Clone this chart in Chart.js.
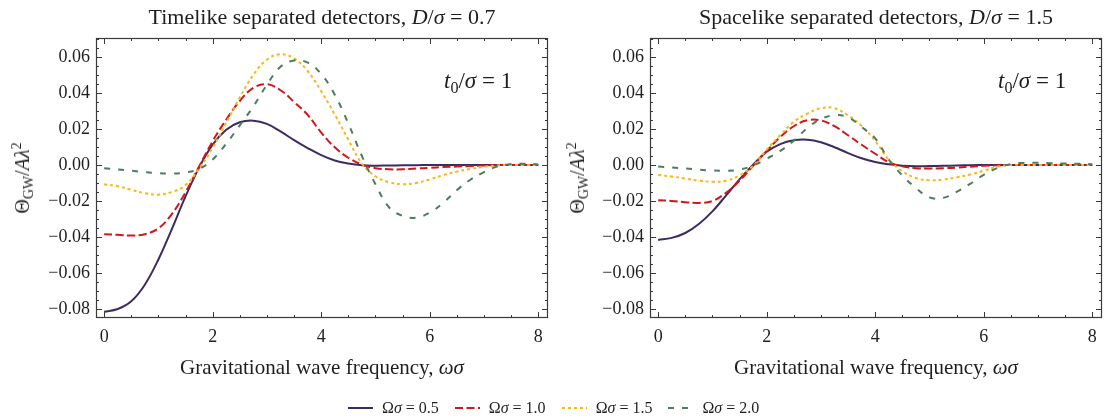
<!DOCTYPE html>
<html>
<head>
<meta charset="utf-8">
<script src="https://cdn.jsdelivr.net/npm/chart.js@4/dist/chart.umd.min.js"></script>
<style>
    html, body { margin: 0; padding: 0; background: #fff; }
    #fig { position: relative; width: 1104px; height: 419px; overflow: hidden;
           font-family: "Liberation Serif", "Times New Roman", serif; color: #1e1e1e; }
    #fig canvas { position: absolute; top: 0; }
    .txt { position: absolute; white-space: nowrap; line-height: 1; }
    .titulo { top: 6px; font-size: 22px; transform: translateX(-50%); }
    .ejeX { top: 357px; font-size: 21px; transform: translateX(-50%); }
    .ejeY { font-size: 20px; transform: translate(-50%, -50%) rotate(-90deg); }
    .nota { top: 69px; font-size: 23px; }
    sub { font-size: 0.7em; vertical-align: -0.3em; line-height: 0; }
    sup { font-size: 0.7em; vertical-align: 0.55em; line-height: 0; }
    #leyenda { position: absolute; top: 399px; left: 348px; font-size: 16px; display: flex; align-items: center; }
    #leyenda .item { display: flex; align-items: center; margin-right: 16px; }
    #leyenda svg { margin-right: 9px; }
</style>
</head>
<body>
<div id="fig">
    <canvas id="izq" width="552" height="419" style="left:0"></canvas>
    <canvas id="der" width="552" height="419" style="left:552px"></canvas>

    <div class="txt titulo" style="left:322px">Timelike separated detectors, <i>D</i>/<i>σ</i> = 0.7</div>
    <div class="txt titulo" style="left:876px">Spacelike separated detectors, <i>D</i>/<i>σ</i> = 1.5</div>

    <div class="txt ejeY" style="left:22px; top:178px">Θ<sub>GW</sub>/<i>Aλ</i><sup>2</sup></div>
    <div class="txt ejeY" style="left:577px; top:178px">Θ<sub>GW</sub>/<i>Aλ</i><sup>2</sup></div>

    <div class="txt ejeX" style="left:322px">Gravitational wave frequency, <i>ωσ</i></div>
    <div class="txt ejeX" style="left:876px">Gravitational wave frequency, <i>ωσ</i></div>

    <div class="txt nota" style="left:444px"><i>t</i><sub>0</sub>/<i>σ</i> = 1</div>
    <div class="txt nota" style="left:998px"><i>t</i><sub>0</sub>/<i>σ</i> = 1</div>

    <div id="leyenda"></div>
</div>

<script>
// frecuencia ωσ
const omega = [0, 0.25, 0.5, 0.75, 1, 1.25, 1.5, 1.75, 2, 2.25, 2.5, 2.75, 3, 3.25, 3.5, 3.75,
               4, 4.25, 4.5, 4.75, 5, 5.25, 5.5, 5.75, 6, 6.25, 6.5, 6.75, 7, 7.25, 7.5, 7.75, 8];

const omegaSigma = ['0.5', '1.0', '1.5', '2.0'];
const xTicks = [0, 2, 4, 6, 8];
const yTicks = [-0.08, -0.06, -0.04, -0.02, 0, 0.02, 0.04, 0.06];

// Timelike, D/σ = 0.7
const timelike05 = [-0.0815, -0.0800, -0.0757, -0.0665, -0.0525, -0.0355, -0.0175, -0.0015, 0.0113, 0.0196, 0.0237, 0.0246, 0.0228, 0.0186, 0.0138, 0.0094, 0.0055, 0.0025, 0.0008, -0.0002, -0.0004, -0.0003, -0.0002, -0.0001, 0, 0, 0, 0, 0, 0, 0, 0, 0];
const timelike10 = [-0.0385, -0.0388, -0.0392, -0.0385, -0.0352, -0.0272, -0.0152, -0.0008, 0.0132, 0.0252, 0.0355, 0.0428, 0.0448, 0.0415, 0.0350, 0.0278, 0.0180, 0.0098, 0.0040, 0.0002, -0.0018, -0.0024, -0.0024, -0.0020, -0.0016, -0.0012, -0.0009, -0.0006, -0.0003, -0.0001, 0, 0, 0];
const timelike15 = [-0.0107, -0.0118, -0.0138, -0.0157, -0.0165, -0.0150, -0.0112, -0.0020, 0.0095, 0.0235, 0.0375, 0.0500, 0.0585, 0.0615, 0.0592, 0.0522, 0.0410, 0.0280, 0.0140, 0.0008, -0.0063, -0.0096, -0.0107, -0.0100, -0.0080, -0.0057, -0.0037, -0.0022, -0.0010, -0.0003, 0, 0, 0];
const timelike20 = [-0.0019, -0.0025, -0.0032, -0.0040, -0.0046, -0.0048, -0.0042, -0.0022, 0.0030, 0.0118, 0.0220, 0.0325, 0.0445, 0.0545, 0.0580, 0.0568, 0.0505, 0.0390, 0.0230, 0.0050, -0.0107, -0.0235, -0.0283, -0.0293, -0.0265, -0.0210, -0.0140, -0.0082, -0.0040, -0.0008, 0.0005, 0.0007, 0.0003];

// Spacelike, D/σ = 1.5
const spacelike05 = [-0.0417, -0.0405, -0.0378, -0.0328, -0.0258, -0.0170, -0.0080, 0.0002, 0.0073, 0.0116, 0.0137, 0.0140, 0.0126, 0.0098, 0.0066, 0.0037, 0.0016, 0.0004, -0.0004, -0.0007, -0.0006, -0.0005, -0.0003, -0.0001, 0, 0, 0, 0, 0, 0, 0, 0, 0];
const spacelike10 = [-0.0196, -0.0200, -0.0207, -0.0211, -0.0200, -0.0155, -0.0088, -0.0005, 0.0078, 0.0155, 0.0215, 0.0248, 0.0247, 0.0215, 0.0165, 0.0112, 0.0062, 0.0015, -0.0008, -0.0018, -0.0020, -0.0018, -0.0015, -0.0010, -0.0005, -0.0002, 0, 0, 0, 0, 0, 0, 0];
const spacelike15 = [-0.0056, -0.0064, -0.0076, -0.0087, -0.0093, -0.0088, -0.0058, -0.0005, 0.0085, 0.0165, 0.0240, 0.0285, 0.0315, 0.0315, 0.0275, 0.0217, 0.0133, 0.0030, -0.0035, -0.0073, -0.0085, -0.0081, -0.0069, -0.0053, -0.0032, -0.0010, 0, 0, 0, 0, 0, 0, 0];
const spacelike20 = [-0.0009, -0.0014, -0.0020, -0.0026, -0.0031, -0.0032, -0.0026, -0.0003, 0.0035, 0.0078, 0.0135, 0.0205, 0.0255, 0.0276, 0.0265, 0.0210, 0.0148, 0.0030, -0.0058, -0.0128, -0.0180, -0.0183, -0.0150, -0.0105, -0.0055, -0.0017, 0.0005, 0.0012, 0.0012, 0.0010, 0.0008, 0.0006, 0.0004];

const colores = ['#3d2b60', '#d1161c', '#fdb515', '#4e7c5e'];
const trazos = [[], [8, 3.5], [3, 3], [6, 8]];
const fuente = { family: '"Liberation Serif", "Times New Roman", serif', size: 18 };

const menos = s => s.replace('-', '\u2212');

// marco completo con ticks hacia adentro en los cuatro lados
const marcoEjes = {
    id: 'marcoEjes',
    afterDatasetsDraw(chart) {
        const { ctx, chartArea: a, scales: { x, y } } = chart;
        ctx.save();
        ctx.strokeStyle = '#3a3a3a';
        ctx.lineWidth = 1;
        ctx.beginPath();
        for (let k = -1; k <= 17; k++) {
            const px = Math.round(x.getPixelForValue(k * 0.5)) + 0.5;
            if (px <= a.left + 1 || px >= a.right - 1) continue;
            const len = k % 4 === 0 ? 6 : 3;
            ctx.moveTo(px, a.bottom); ctx.lineTo(px, a.bottom - len);
            ctx.moveTo(px, a.top); ctx.lineTo(px, a.top + len);
        }
        for (let k = -18; k <= 15; k++) {
            const py = Math.round(y.getPixelForValue(k * 0.005)) + 0.5;
            if (py <= a.top + 1 || py >= a.bottom - 1) continue;
            const len = k % 4 === 0 ? 6 : 3;
            ctx.moveTo(a.left, py); ctx.lineTo(a.left + len, py);
            ctx.moveTo(a.right, py); ctx.lineTo(a.right - len, py);
        }
        ctx.stroke();
        ctx.lineWidth = 1.2;
        ctx.strokeRect(Math.round(a.left) + 0.5, Math.round(a.top) + 0.5,
                       Math.round(a.width) - 1, Math.round(a.height) - 1);
        ctx.restore();
    }
};

function crearGrafico(id, series, padIzq, padDer) {
    const datasets = series.map((serie, i) => ({
        label: 'Ωσ = ' + omegaSigma[i],
        data: omega.map((w, j) => ({ x: w, y: serie[j] })),
        borderColor: colores[i],
        borderWidth: 2,
        borderDash: trazos[i],
        borderCapStyle: 'butt',
        pointRadius: 0,
        tension: 0.4,
        fill: false,
        order: series.length - i
    }));

    return new Chart(document.getElementById(id), {
        type: 'line',
        data: { datasets },
        options: {
            responsive: false,
            animation: false,
            layout: { padding: { left: padIzq, right: padDer, top: 38, bottom: 71 } },
            plugins: { legend: { display: false }, tooltip: { enabled: false } },
            scales: {
                x: {
                    type: 'linear', min: -0.15, max: 8.18,
                    grid: { display: false, drawTicks: false },
                    border: { display: false },
                    ticks: { font: fuente, color: '#1e1e1e', padding: 8, autoSkip: false, maxRotation: 0,
                             callback: v => String(v) },
                    afterBuildTicks: s => { s.ticks = xTicks.map(v => ({ value: v })); },
                    afterFit: s => { s.height = 30; s.paddingLeft = 0; s.paddingRight = 0; }
                },
                y: {
                    type: 'linear', min: -0.085, max: 0.0705,
                    grid: { display: false, drawTicks: false },
                    border: { display: false },
                    ticks: { font: fuente, color: '#1e1e1e', padding: 6,
                             callback: v => Math.abs(v) < 1e-9 ? '0.00' : menos(v.toFixed(2)) },
                    afterBuildTicks: s => { s.ticks = yTicks.map(v => ({ value: v })); },
                    afterFit: s => { s.width = 60; s.paddingTop = 0; s.paddingBottom = 0; }
                }
            }
        },
        plugins: [marcoEjes]
    });
}

crearGrafico('izq', [timelike05, timelike10, timelike15, timelike20], 36, 4);
crearGrafico('der', [spacelike05, spacelike10, spacelike15, spacelike20], 38, 2);

// leyenda compartida
const leyenda = document.getElementById('leyenda');
omegaSigma.forEach((val, i) => {
    const item = document.createElement('span');
    item.className = 'item';
    item.innerHTML =
        `<svg width="25" height="6"><line x1="0" y1="3" x2="25" y2="3" stroke="${colores[i]}" stroke-width="2" ` +
        `stroke-dasharray="${trazos[i].length ? trazos[i].join(' ') : 'none'}"/></svg>` +
        `<span>Ω<i>σ</i> = ${val}</span>`;
    leyenda.appendChild(item);
});
</script>
</body>
</html>
